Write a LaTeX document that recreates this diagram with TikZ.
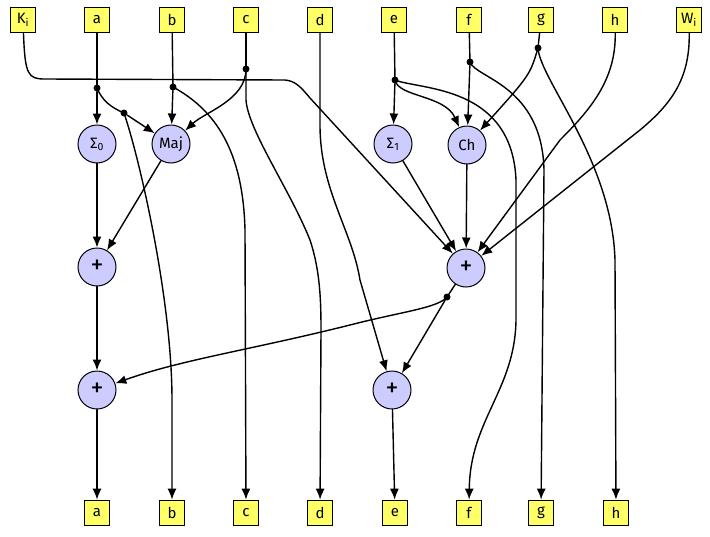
\documentclass[tikz,border=0pt]{standalone}
\usepackage{fontspec}
\setmainfont{Fira Sans}
\usetikzlibrary{arrows.meta}
\definecolor{boxyellow}{HTML}{FFFF66}
\definecolor{opblue}{HTML}{CCCCFF}
\begin{document}
\begin{tikzpicture}[x=1pt,y=-1pt,
  regbox/.style={draw=black,line width=1.7pt,fill=boxyellow,minimum width=25pt,minimum height=25pt,inner sep=0pt,font=\fontsize{15}{15}\selectfont},
  opnode/.style={circle,draw=black,line width=1pt,fill=opblue,minimum size=38pt,inner sep=0pt,font=\fontsize{15}{15}\selectfont},
  plus/.style={opnode,font=\fontsize{26}{26}\selectfont},
  junction/.style={circle,fill=black,inner sep=0pt,minimum size=7pt},
  wire/.style={line width=1.4pt,line cap=round},
  arr/.style={wire,-{Latex[length=11pt,width=9pt]}}]
\useasboundingbox (0,0) rectangle (710,536);
% top registers
\node[regbox] (Ki) at (23,20) {K\textsubscript{i}};
\node[regbox] (a) at (97,20) {a};
\node[regbox] (b) at (172,20) {b};
\node[regbox] (c) at (246,20) {c};
\node[regbox] (d) at (320,20) {d};
\node[regbox] (e) at (394,20) {e};
\node[regbox] (f) at (469,20) {f};
\node[regbox] (g) at (541,20) {g};
\node[regbox] (h) at (615,20) {h};
\node[regbox] (Wi) at (689,20) {W\textsubscript{i}};
% bottom registers
\node[regbox] (ao) at (97,513) {a};
\node[regbox] (bo) at (172,513) {b};
\node[regbox] (co) at (246,513) {c};
\node[regbox] (do) at (320,513) {d};
\node[regbox] (eo) at (395,513) {e};
\node[regbox] (fo) at (469,513) {f};
\node[regbox] (go) at (541,513) {g};
\node[regbox] (ho) at (616,513) {h};
% operators
\node[opnode] (S0) at (97,144) {Σ\textsubscript{0}};
\node[opnode] (Maj) at (171,144) {Maj};
\node[opnode] (S1) at (393,144) {Σ\textsubscript{1}};
\node[opnode] (Ch) at (467,145) {Ch};
\node[plus] (p1) at (97,267) {+};
\node[plus] (P) at (466,268) {+};
\node[plus] (p2) at (97,390) {+};
\node[plus] (p3) at (392,390) {+};
% junctions
\node[junction] (da) at (97,88) {};
\node[junction] (da2) at (124,113) {};
\node[junction] (db) at (173,87) {};
\node[junction] (dc) at (246,69) {};
\node[junction] (de) at (395,80) {};
\node[junction] (df) at (470,62) {};
\node[junction] (dg) at (538,48) {};
\node[junction] (dP) at (447,297) {};
% a
\draw[wire] (a) -- (da.center);
\draw[arr] (da) -- (S0);
\draw[wire] (da.center) .. controls (102,100) and (110,107) .. (da2.center);
\draw[arr] (da2) -- (Maj);
\draw[arr] (da2.center) .. controls (140,160) and (172,300) .. (172,400) -- (bo);
% b
\draw[wire] (b) -- (db.center);
\draw[arr] (db) -- (Maj);
\draw[arr] (db.center) .. controls (215,110) and (243,150) .. (245,230) -- (co);
% c
\draw[wire] (c) -- (dc.center);
\draw[arr] (dc.center) .. controls (246,100) and (205,112) .. (Maj);
\draw[arr] (dc.center) -- (246,100) .. controls (248,130) and (290,190) .. (310,240) .. controls (320,270) and (321,300) .. (321,330) -- (do);
% d
\draw[arr] (d) -- (320,125) .. controls (320,190) and (352,230) .. (360,280) -- (p3);
% Ki
\draw[arr] (Ki) .. controls (25,75) and (28,79) .. (45,79) -- (285,80) .. controls (295,81) and (300,86) .. (310,98) -- (P);
% e
\draw[wire] (e) -- (de.center);
\draw[arr] (de) -- (S1);
\draw[arr] (de.center) .. controls (398,97) and (445,95) .. (Ch);
\draw[arr] (de.center) .. controls (420,90) and (512,85) .. (516,180) -- (516,320) .. controls (515,390) and (470,420) .. (fo);
% f
\draw[wire] (f) -- (df.center);
\draw[arr] (df) -- (Ch);
\draw[arr] (df.center) .. controls (475,78) and (542,85) .. (544,170) -- (go);
% g
\draw[wire] (g) -- (dg.center);
\draw[arr] (dg.center) .. controls (530,75) .. (Ch);
\draw[arr] (dg.center) .. controls (540,80) and (612,160) .. (615,260) -- (ho);
% h, Wi
\draw[arr] (h) .. controls (616,80) and (590,110) .. (560,140) -- (P);
\draw[arr] (Wi) .. controls (690,80) and (670,105) .. (640,130) -- (P);
% into big +
\draw[arr] (S1) -- (P);
\draw[arr] (Ch) -- (P);
% out of big +
\draw[wire] (P) -- (dP.center);
\draw[arr] (dP) -- (p3);
\draw[arr] (dP.center) .. controls (438,308) and (400,312) .. (350,325) .. controls (250,350) and (180,360) .. (p2);
% left column
\draw[arr] (S0) -- (p1);
\draw[arr] (Maj) -- (p1);
\draw[arr] (p1) -- (p2);
\draw[arr] (p2) -- (ao);
\draw[arr] (p3) -- (eo);
\end{tikzpicture}
\end{document}
